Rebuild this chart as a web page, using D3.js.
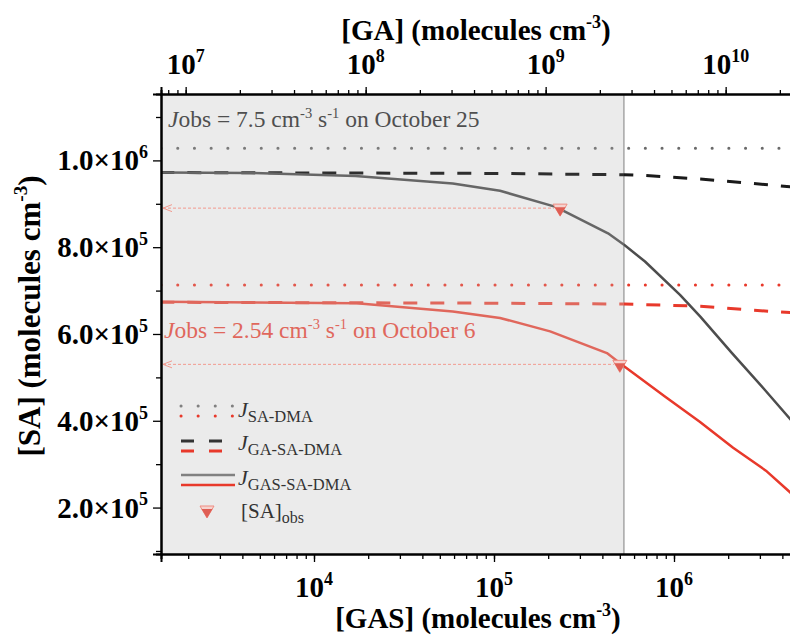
<!DOCTYPE html>
<html>
<head>
<meta charset="utf-8">
<script src="https://cdn.jsdelivr.net/npm/d3@7"></script>
<style>
  body { margin: 0; background: #fff; }
  svg { display: block; }
  text { font-family: "Liberation Serif", "Times New Roman", serif; }
</style>
</head>
<body>
<div id="chart"></div>
<script>
// axis domains (molecules cm-3)
const gasDomain = [10 ** 3.15, 10 ** 6.65]
const gaDomain = [10 ** 6.863, 10 ** 10.363]
const saDomain = [0.93e5, 1.153e6]

const gasMajor = [1e4, 1e5, 1e6]
const gaMajor = [1e7, 1e8, 1e9, 1e10]
const saMajor = [2e5, 4e5, 6e5, 8e5, 1e6]
const saMinor = [1e5, 3e5, 5e5, 7e5, 9e5, 1.1e6]

// grey box ends at this [GAS]
const shadeEnd = 5.27e5

// J_SA-DMA (flat)
const saDmaOct25 = 1.028e6
const saDmaOct6 = 7.13e5

// J_GA-SA-DMA
const gaGasOct25 = [1.4e3, 1e5, 5.3e5, 7e5, 1.4e6, 2.7e6, 4.5e6]
const gaSaOct25 = [9.72e5, 9.70e5, 9.67e5, 9.65e5, 9.57e5, 9.47e5, 9.39e5]
const gaGasOct6 = [1.4e3, 1e5, 5.3e5, 1.4e6, 2.7e6, 4.5e6]
const gaSaOct6 = [6.73e5, 6.71e5, 6.69e5, 6.64e5, 6.55e5, 6.49e5]

// J_GAS-SA-DMA
const gasGasOct25 = [1.4e3, 4.4e3, 1.7e4, 5.9e4, 1.08e5, 2.2e5, 4.3e5, 5.3e5, 6.9e5, 1.08e6, 1.4e6, 2.1e6, 3.2e6, 4.5e6]
const gasSaOct25 = [9.72e5, 9.71e5, 9.64e5, 9.47e5, 9.30e5, 8.93e5, 8.32e5, 8.05e5, 7.67e5, 6.90e5, 6.40e5, 5.56e5, 4.71e5, 4.0e5]
const gasGasOct6 = [1.4e3, 1.73e4, 5.9e4, 1.08e5, 2.05e5, 4.24e5, 5.3e5, 8.9e5, 1.39e6, 2.13e6, 3.24e6, 4.5e6]
const gasSaOct6 = [6.74e5, 6.71e5, 6.52e5, 6.37e5, 6.06e5, 5.56e5, 5.25e5, 4.56e5, 3.98e5, 3.38e5, 2.85e5, 2.32e5]

// observed [SA]
const obsGas = [2.33e5, 5.0e5]
const obsSa = [8.9e5, 5.3e5]

const W = 790
const H = 635
const margins = { top: 94, right: -1, bottom: 81, left: 161 }
const plotW = W - margins.left - margins.right
const plotH = H - margins.top - margins.bottom

const grey = '#666666'
const greyOut = '#4d4d4d'
const red = '#e8392b'
const redIn = '#e0675c'

const svg = d3.select('#chart')
  .append('svg')
  .attr('width', W)
  .attr('height', H)

const x = d3.scaleLog(gasDomain, [0, plotW])
const xTop = d3.scaleLog(gaDomain, [0, plotW])
const y = d3.scaleLinear(saDomain, [plotH, 0])

const g = svg.append('g')
  .attr('transform', `translate(${margins.left}, ${margins.top})`)

const defs = svg.append('defs')
defs.append('clipPath').attr('id', 'clip-left')
  .append('rect').attr('x', 0).attr('y', 0).attr('width', x(shadeEnd)).attr('height', plotH)
defs.append('clipPath').attr('id', 'clip-right')
  .append('rect').attr('x', x(shadeEnd)).attr('y', 0).attr('width', plotW - x(shadeEnd)).attr('height', plotH)

// shaded box
g.append('rect')
  .attr('x', 0)
  .attr('y', 0)
  .attr('width', x(shadeEnd))
  .attr('height', plotH)
  .attr('fill', '#ebebeb')

g.append('line')
  .attr('x1', x(shadeEnd)).attr('x2', x(shadeEnd))
  .attr('y1', 0).attr('y2', plotH)
  .attr('stroke', '#9a9a9a')
  .attr('stroke-width', 1.3)

const line = d3.line()
  .x(d => x(d[0]))
  .y(d => y(d[1]))

const zip = (a, b) => a.map((v, i) => [v, b[i]])

const series = [
  { pts: [[gasDomain[0], saDmaOct25], [gasDomain[1], saDmaOct25]], cIn: '#7a7a7a', cOut: '#6a6a6a', w: 3, dash: '0.1,16.6' },
  { pts: [[gasDomain[0], saDmaOct6], [gasDomain[1], saDmaOct6]], cIn: '#e2574b', cOut: red, w: 3, dash: '0.1,16.6' },
  { pts: zip(gaGasOct25, gaSaOct25), cIn: '#2e2e2e', cOut: '#1a1a1a', w: 3, dash: '14,13' },
  { pts: zip(gaGasOct6, gaSaOct6), cIn: redIn, cOut: red, w: 3, dash: '14,13' },
  { pts: zip(gasGasOct25, gasSaOct25), cIn: grey, cOut: greyOut, w: 2.5, dash: null },
  { pts: zip(gasGasOct6, gasSaOct6), cIn: redIn, cOut: red, w: 2.5, dash: null }
]

series.forEach(s => {
  ;[['clip-left', s.cIn], ['clip-right', s.cOut]].forEach(([clip, col]) => {
    g.append('path')
      .datum(s.pts)
      .attr('clip-path', `url(#${clip})`)
      .attr('fill', 'none')
      .attr('stroke', col)
      .attr('stroke-width', s.w)
      .attr('stroke-linejoin', 'round')
      .attr('stroke-linecap', s.dash && s.dash.startsWith('0.1') ? 'round' : 'butt')
      .attr('stroke-dasharray', s.dash)
      .attr('d', line)
  })
})

// dashed guide arrows back to the SA axis
const obs = zip(obsGas, obsSa)
obs.forEach(d => {
  const yy = y(d[1])
  g.append('line')
    .attr('x1', 2).attr('x2', x(d[0]) - 6)
    .attr('y1', yy).attr('y2', yy)
    .attr('stroke', '#f29a8f')
    .attr('stroke-width', 1)
    .attr('stroke-dasharray', '3,2')
  g.append('path')
    .attr('d', `M11,${yy - 3.5}L2,${yy}L11,${yy + 3.5}`)
    .attr('fill', 'none')
    .attr('stroke', '#f29a8f')
    .attr('stroke-width', 1)
})

const drawObsMarker = (sel, cx, cy) => {
  sel.append('path')
    .attr('d', `M${cx - 7},${cy - 4}L${cx + 7},${cy - 4}L${cx},${cy + 8}Z`)
    .attr('fill', '#f6d3cf')
    .attr('stroke', '#ef8d82')
    .attr('stroke-width', 1)
  sel.append('path')
    .attr('d', `M${cx - 5.5},${cy - 1}L${cx + 5.5},${cy - 1}L${cx},${cy + 8}Z`)
    .attr('fill', '#df5e54')
}

obs.forEach(d => drawObsMarker(g, x(d[0]), y(d[1])))

// axes
const frame = g.append('g').attr('class', 'axes')

const logMinor = (scale) => {
  const [a, b] = scale.domain()
  return scale.ticks(50).filter(v => v >= a && v <= b)
}

frame.append('g')
  .attr('transform', `translate(0, ${plotH})`)
  .call(d3.axisBottom(x).tickValues(logMinor(x)).tickSize(5).tickFormat(''))
frame.append('g')
  .attr('transform', `translate(0, ${plotH})`)
  .call(d3.axisBottom(x).tickValues(gasMajor).tickSize(8).tickFormat(''))
frame.append('g')
  .call(d3.axisTop(xTop).tickValues(logMinor(xTop)).tickSize(4).tickFormat(''))
frame.append('g')
  .call(d3.axisTop(xTop).tickValues(gaMajor).tickSize(7).tickFormat(''))
frame.append('g')
  .call(d3.axisLeft(y).tickValues(saMinor).tickSize(5).tickFormat(''))
frame.append('g')
  .call(d3.axisLeft(y).tickValues(saMajor).tickSize(8).tickFormat(''))

frame.selectAll('.domain').attr('stroke', '#000').attr('stroke-width', 2)
frame.selectAll('.tick line').attr('stroke', '#000').attr('stroke-width', 1.3)

const powText = (sel, px, py, base, exp, size, anchor) => {
  const t = sel.append('text')
    .attr('x', px)
    .attr('y', py)
    .attr('text-anchor', anchor)
    .attr('font-size', size)
    .attr('font-weight', 'bold')
    .attr('fill', '#000')
  t.append('tspan').text(base)
  t.append('tspan').attr('dy', -size * 0.42).attr('font-size', size * 0.62).text(exp)
  return t
}

gasMajor.forEach(v => powText(g, x(v), 597 - margins.top, '10', Math.round(Math.log10(v)), 29, 'middle'))
gaMajor.forEach(v => powText(g, xTop(v), 74 - margins.top, '10', Math.round(Math.log10(v)), 29, 'middle'))
saMajor.forEach(v => {
  const e = Math.floor(Math.log10(v) + 1e-9)
  const m = (v / 10 ** e).toFixed(1)
  powText(g, -13, y(v) + 10, `${m}×10`, e, 29, 'end')
})

// axis titles
const title = (sel, txt, size) => {
  sel.attr('font-size', size).attr('font-weight', 'bold').attr('text-anchor', 'middle').attr('fill', '#000')
  sel.append('tspan').text(txt)
  sel.append('tspan').attr('dy', -size * 0.42).attr('font-size', size * 0.62).text('-3')
  sel.append('tspan').attr('dy', size * 0.42).text(')')
}
title(svg.append('text').attr('x', 476).attr('y', 40), '[GA] (molecules cm', 29)
title(svg.append('text').attr('x', 478).attr('y', 628), '[GAS] (molecules cm', 29)
title(svg.append('text').attr('transform', 'translate(40, 316) rotate(-90)'), '[SA] (molecules cm', 31)

// annotations
const note = (px, py, col, val, day) => {
  const t = svg.append('text').attr('x', px).attr('y', py).attr('font-size', 23.5).attr('fill', col)
  t.append('tspan').attr('font-style', 'italic').text('J')
  t.append('tspan').text(`obs = ${val} cm`)
  t.append('tspan').attr('dy', -9).attr('font-size', 14.5).text('-3')
  t.append('tspan').attr('dy', 9).text(' s')
  t.append('tspan').attr('dy', -9).attr('font-size', 14.5).text('-1')
  t.append('tspan').attr('dy', 9).text(` on ${day}`)
}
note(168, 127, '#4f4f4f', '7.5', 'October 25')
note(164, 338, '#e0675c', '2.54', 'October 6')

// legend
const legend = svg.append('g')
const legendRows = [
  { y: 406, c1: '#808080', c2: red, dash: '0.1,17', cap: 'round', w: 3, sub: 'SA-DMA', ty: 417 },
  { y: 441, c1: '#333333', c2: red, dash: '13,15', cap: 'butt', w: 3, sub: 'GA-SA-DMA', ty: 450 },
  { y: 475, c1: '#808080', c2: red, dash: null, cap: 'butt', w: 2.5, sub: 'GAS-SA-DMA', ty: 485 }
]
legendRows.forEach(r => {
  ;[[r.y, r.c1], [r.y + 10, r.c2]].forEach(([ly, col]) => {
    legend.append('line')
      .attr('x1', 181).attr('x2', 235)
      .attr('y1', ly).attr('y2', ly)
      .attr('stroke', col)
      .attr('stroke-width', r.w)
      .attr('stroke-linecap', r.cap)
      .attr('stroke-dasharray', r.dash)
  })
  const t = legend.append('text').attr('x', 238).attr('y', r.ty).attr('font-size', 22).attr('fill', '#333')
  t.append('tspan').attr('font-style', 'italic').text('J')
  t.append('tspan').attr('dy', 5).attr('font-size', 16.5).text(r.sub)
})
drawObsMarker(legend, 207, 510)
const lt = legend.append('text').attr('x', 241).attr('y', 518).attr('font-size', 21).attr('fill', '#333')
lt.append('tspan').text('[SA]')
lt.append('tspan').attr('dy', 5).attr('font-size', 16).text('obs')
</script>
</body>
</html>
